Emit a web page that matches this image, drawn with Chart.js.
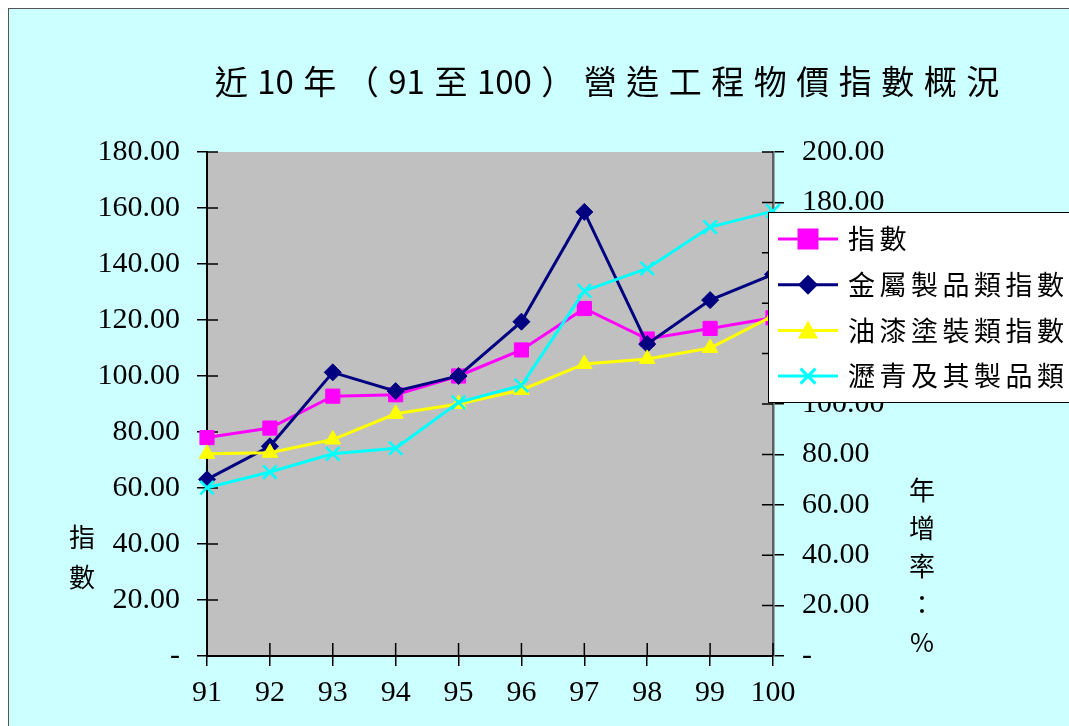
<!DOCTYPE html>
<html><head><meta charset="utf-8">
<script src="https://cdn.jsdelivr.net/npm/chart.js@4/dist/chart.umd.min.js"></script>
<style>
html,body{margin:0;padding:0;background:#fff;overflow:hidden;width:1069px;height:726px;}
#wrap{position:absolute;left:8px;top:8px;width:1200px;height:720px;border:1px solid #555;background:#ccffff;}
canvas{display:block;}
</style></head><body>
<div id="wrap"><canvas id="c" width="1200" height="720"></canvas></div>
<script>
const titleText = '近10年（91至100）營造工程物價指數概況';
const years = ['91','92','93','94','95','96','97','98','99','100'];
const indexAll = [78.0, 81.4, 92.8, 93.3, 100.0, 109.3, 124.1, 113.2, 117.0, 120.8];
const metalIndex = [63.1, 74.9, 101.3, 94.6, 100.0, 119.4, 158.6, 111.4, 127.1, 136.3];
const paintIndex = [72.2, 72.6, 77.3, 86.5, 90.0, 95.0, 104.3, 106.1, 110.0, 121.5];
const asphaltIndex = [60.1, 65.7, 72.2, 74.2, 90.6, 96.6, 130.4, 138.4, 153.2, 158.9];
const seriesNames = ['指數', '金屬製品類指數', '油漆塗裝類指數', '瀝青及其製品類指數'];
const leftAxisTitle = ['指', '數'];
const rightAxisTitle = ['年', '增', '率', '：', '%'];
const leftMax = 180, rightMax = 200, tickStep = 20;

const CJK = '"Noto Sans CJK TC","Noto Sans CJK SC",sans-serif';
const NUM = '"Liberation Serif","DejaVu Serif",serif';

function isDigit(c){ return /[0-9]/.test(c); }
function drawSpaced(ctx, text, x, y, gap, align){
  const chars = Array.from(text);
  const w = chars.map(c => ctx.measureText(c).width);
  const gaps = chars.map((c,i) => (i < chars.length-1 && !(isDigit(c) && isDigit(chars[i+1]))) ? gap : 0);
  let total = 0; chars.forEach((c,i)=>{ total += w[i] + gaps[i]; });
  let cx = align === 'center' ? x - total/2 : x;
  ctx.textAlign = 'left';
  chars.forEach((c,i)=>{ ctx.fillText(c, cx, y); cx += w[i] + gaps[i]; });
}
function marker(ctx, style, x, y, r, color){
  ctx.save(); ctx.fillStyle = color; ctx.strokeStyle = color; ctx.lineWidth = 3;
  ctx.beginPath();
  if (style === 'rect'){ ctx.rect(x-r, y-r, 2*r, 2*r); ctx.fill(); }
  else if (style === 'rectRot'){ ctx.moveTo(x, y-r); ctx.lineTo(x+r, y); ctx.lineTo(x, y+r); ctx.lineTo(x-r, y); ctx.closePath(); ctx.fill(); }
  else if (style === 'triangle'){ ctx.moveTo(x, y-r); ctx.lineTo(x+r, y+r*0.8); ctx.lineTo(x-r, y+r*0.8); ctx.closePath(); ctx.fill(); }
  else { ctx.moveTo(x-r*0.75, y-r*0.75); ctx.lineTo(x+r*0.75, y+r*0.75); ctx.moveTo(x+r*0.75, y-r*0.75); ctx.lineTo(x-r*0.75, y+r*0.75); ctx.stroke(); }
  ctx.restore();
}

const decor = {
  id: 'decor',
  beforeDraw(chart){
    const {ctx, chartArea:a} = chart;
    ctx.save(); ctx.fillStyle = '#c0c0c0';
    ctx.fillRect(a.left, a.top, a.right-a.left, a.bottom-a.top);
    ctx.restore();
  },
  beforeDatasetsDraw(chart){
    const {ctx, chartArea:a, scales} = chart;
    ctx.save(); ctx.strokeStyle = '#000'; ctx.lineWidth = 1.5;
    ctx.beginPath();
    scales.y.ticks.forEach((t,i)=>{ const y = scales.y.getPixelForTick(i); ctx.moveTo(a.left, y); ctx.lineTo(a.left+11, y); });
    scales.y1.ticks.forEach((t,i)=>{ const y = scales.y1.getPixelForTick(i); ctx.moveTo(a.right-11, y); ctx.lineTo(a.right, y); });
    scales.x.ticks.forEach((t,i)=>{ const x = scales.x.getPixelForTick(i); ctx.moveTo(x, a.bottom); ctx.lineTo(x, a.bottom-13); });
    ctx.stroke(); ctx.restore();
  },
  afterDraw(chart){
    const {ctx} = chart;
    ctx.save();
    ctx.fillStyle = '#000'; ctx.textBaseline = 'middle';
    // title
    ctx.font = '33px ' + CJK;
    drawSpaced(ctx, titleText, 598, 72, 9.5, 'center');
    // axis titles
    ctx.font = '26px ' + CJK; ctx.textAlign = 'center';
    leftAxisTitle.forEach((c,i)=> ctx.fillText(c, 73, 528 + i*40));
    rightAxisTitle.forEach((c,i)=> ctx.fillText(c, 913, 481 + i*38));
    // legend
    const lx = 759, ly = 203, lw = 400, lh = 190;
    ctx.fillStyle = '#fff'; ctx.fillRect(lx, ly, lw, lh);
    ctx.strokeStyle = '#000'; ctx.lineWidth = 1; ctx.strokeRect(lx+0.5, ly+0.5, lw, lh);
    ctx.font = '27px ' + CJK;
    chart.data.datasets.forEach((ds,i)=>{
      const y = 230 + i*45.7;
      ctx.strokeStyle = ds.borderColor; ctx.lineWidth = 3;
      ctx.beginPath(); ctx.moveTo(769, y); ctx.lineTo(829, y); ctx.stroke();
      marker(ctx, ds.pointStyle, 799, y, ds.pointStyle === 'rectRot' ? 10 : (ds.pointStyle==='rect'? 10.5 : 10), ds.borderColor);
      ctx.fillStyle = '#000';
      drawSpaced(ctx, ds.label, 839, y, 4.5, 'left');
    });
    ctx.restore();
  }
};

function ds(label, data, color, style, radius, order){
  return { label, data, borderColor: color, backgroundColor: color, pointBackgroundColor: color,
    pointBorderColor: color, pointStyle: style, pointRadius: radius, pointBorderWidth: style==='crossRot'?2.5:1,
    borderWidth: 3, tension: 0, clip: false, yAxisID: 'y', order };
}

new Chart(document.getElementById('c'), {
  type: 'line',
  data: {
    labels: years,
    datasets: [
      ds(seriesNames[0], indexAll, '#ff00ff', 'rect', 10, 4),
      ds(seriesNames[1], metalIndex, '#000080', 'rectRot', 8.5, 3),
      ds(seriesNames[2], paintIndex, '#ffff00', 'triangle', 9, 2),
      ds(seriesNames[3], asphaltIndex, '#00ffff', 'crossRot', 9.5, 1)
    ]
  },
  options: {
    responsive: false, devicePixelRatio: 1, animation: false,
    layout: { padding: { top: 143, left: 0, right: 0, bottom: 0 } },
    plugins: { legend: { display: false }, tooltip: { enabled: false }, title: { display: false } },
    scales: {
      x: {
        offset: false,
        grid: { drawOnChartArea: false, tickLength: 10, color: '#000', lineWidth: 1.5 },
        border: { color: '#000', width: 2 },
        ticks: { color: '#000', font: { family: NUM, size: 30 }, padding: 9, maxRotation: 0, autoSkip: false },
        afterFit(s){ s.height = 720 - 647; }
      },
      y: {
        position: 'left', min: 0, max: leftMax,
        grid: { drawOnChartArea: false, tickLength: 10, color: '#000', lineWidth: 1.5 },
        border: { color: '#000', width: 2 },
        ticks: { stepSize: tickStep, color: '#000', font: { family: NUM, size: 30 }, padding: 17,
          callback: v => v === 0 ? '-' : v.toFixed(2) },
        afterFit(s){ s.width = 198; }
      },
      y1: {
        position: 'right', min: 0, max: rightMax,
        grid: { drawOnChartArea: false, tickLength: 11, color: '#000', lineWidth: 1.5 },
        border: { color: '#606060', width: 2.5 },
        ticks: { stepSize: tickStep, color: '#000', font: { family: NUM, size: 30 }, padding: 18,
          callback: v => v === 0 ? '-' : v.toFixed(2) },
        afterFit(s){ s.width = 1200 - 764; }
      }
    }
  },
  plugins: [decor]
});
</script>
</body></html>
